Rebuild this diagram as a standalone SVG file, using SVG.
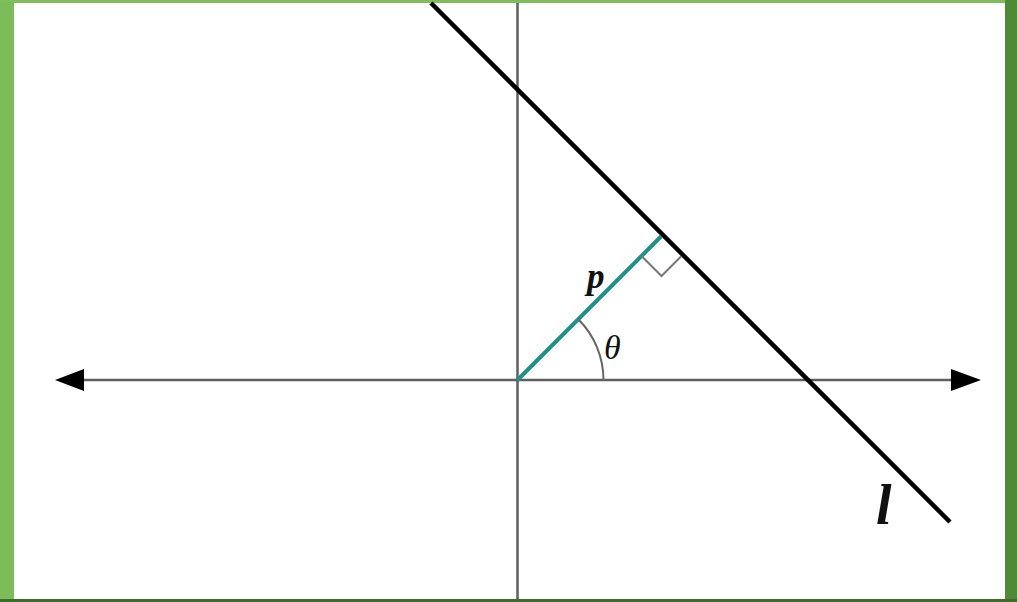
<svg xmlns="http://www.w3.org/2000/svg" width="1017" height="602" viewBox="0 0 1017 602">
<style>
.axis{stroke:#5f5f5f;stroke-width:2.5;fill:none}
.lbl{font-family:"Liberation Serif","DejaVu Serif",serif;font-style:italic;fill:#111}
</style>
<defs>
<linearGradient id="fr" x1="0" y1="0" x2="1" y2="1">
<stop offset="0" stop-color="#80c05c"/>
<stop offset="1" stop-color="#4c8834"/>
</linearGradient>
</defs>
<rect x="0" y="0" width="1017" height="602" fill="url(#fr)"/>
<rect x="0" y="0" width="14" height="602" fill="#7dbd59"/>
<rect x="0" y="0" width="1017" height="3" fill="#7fbf5b"/>
<rect x="1005" y="0" width="12" height="602" fill="#4f8b37"/>
<rect x="0" y="599" width="1017" height="3" fill="#3f6b2b"/>
<rect x="14" y="3" width="991" height="596" fill="#ffffff"/>
<g id="axes">
<line class="axis" x1="517.5" y1="3" x2="517.5" y2="599"/>
<line class="axis" x1="82" y1="380" x2="953" y2="380"/>
<polygon points="55,380 84,369 84,391" fill="#000"/>
<polygon points="981,380 951,369 951,391" fill="#000"/>
</g>
<g id="connectors">
<line id="line-l" x1="431" y1="3" x2="950" y2="522" stroke="#000" stroke-width="4.5"/>
<line id="perp-p" x1="517.5" y1="380" x2="661" y2="236.5" stroke="#1f918a" stroke-width="4"/>
<polyline id="right-angle" points="641.5,256 661.5,276 681,256.5" fill="none" stroke="#777" stroke-width="2"/>
<path id="theta-arc" d="M578.3,319.2 A86,86 0 0 1 603.5,380" fill="none" stroke="#666" stroke-width="2"/>
</g>
<g id="labels">
<text class="lbl" x="587" y="288" font-size="35" font-weight="bold">p</text>
<text class="lbl" x="604" y="359" font-size="34">θ</text>
<text class="lbl" x="876" y="524" font-size="56" font-weight="bold">l</text>
</g>
</svg>
